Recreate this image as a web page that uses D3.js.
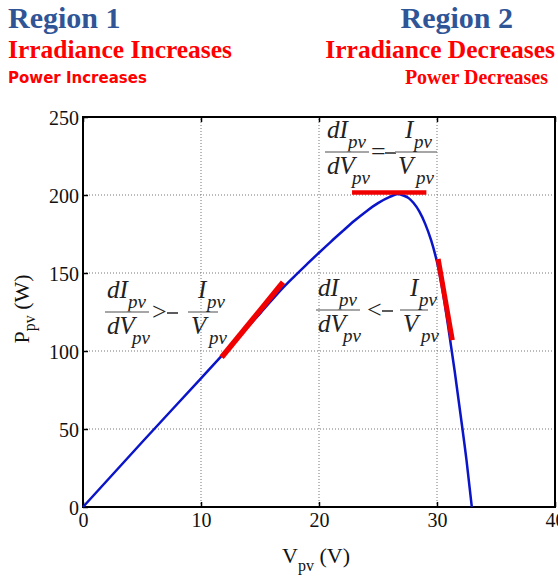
<!DOCTYPE html>
<html>
<head>
<meta charset="utf-8">
<script src="https://cdn.jsdelivr.net/npm/d3@7"></script>
<style>
  body { margin: 0; background: #fff; }
  svg { display: block; }
  .serif { font-family: "Liberation Serif", "Times New Roman", serif; }
</style>
</head>
<body>
<svg id="chart" width="558" height="577"></svg>
<script>
// P-V curve
var voltage = [0, 5, 10, 12, 15, 17, 18, 19, 20, 21, 22, 23, 24, 25, 26, 26.7, 27.1, 27.6, 28, 28.5, 29, 29.5, 30, 30.5, 31, 31.5, 32, 32.5, 32.95];
var power   = [0, 41.5, 82.5, 99, 124, 141, 148.5, 155.8, 163, 170, 176.8, 183.5, 189.5, 194.8, 198.8, 200.6, 199.8, 198, 195, 189.5, 181.5, 171, 157, 137.5, 113, 87, 59, 30, 0];

var xTicks = [0, 10, 20, 30, 40];
var yTicks = [0, 50, 100, 150, 200, 250];

// red tangent markers: [v1, p1, v2, p2]
var tangentLeft  = [11.75, 96, 16.95, 144];
var tangentTop   = [22.8, 201.6, 29.1, 201.6];
var tangentRight = [30.1, 159, 31.3, 107];

var svg = d3.select('#chart');

var x = d3.scaleLinear().domain([0, 40]).range([83, 555]);
var y = d3.scaleLinear().domain([0, 250]).range([507, 117]);

// dotted grid
svg.append('g').selectAll('line.gx')
	.data(xTicks.slice(1, -1))
	.enter().append('line')
	.attr('x1', function(d) { return x(d); })
	.attr('x2', function(d) { return x(d); })
	.attr('y1', y(0)).attr('y2', y(250))
	.attr('stroke', '#777').attr('stroke-width', 1).attr('stroke-dasharray', '1,2');

svg.append('g').selectAll('line.gy')
	.data(yTicks.slice(1, -1))
	.enter().append('line')
	.attr('y1', function(d) { return y(d); })
	.attr('y2', function(d) { return y(d); })
	.attr('x1', x(0)).attr('x2', x(40))
	.attr('stroke', '#777').attr('stroke-width', 1).attr('stroke-dasharray', '1,2');

// axes with inward ticks
var xAxis = svg.append('g')
	.attr('transform', 'translate(0,' + y(0) + ')')
	.call(d3.axisBottom(x).tickValues(xTicks).tickSize(-5).tickPadding(6));
var xTop = svg.append('g')
	.attr('transform', 'translate(0,' + y(250) + ')')
	.call(d3.axisTop(x).tickValues(xTicks).tickSize(-5).tickFormat(''));
var yAxis = svg.append('g')
	.attr('transform', 'translate(' + x(0) + ',0)')
	.call(d3.axisLeft(y).tickValues(yTicks).tickSize(-5).tickPadding(4));

[xAxis, xTop, yAxis].forEach(function(a) {
	a.select('.domain').remove();
	a.selectAll('line').attr('stroke', '#000').attr('stroke-width', 1.5);
	a.selectAll('text')
		.attr('class', 'serif')
		.style('font-size', '20px')
		.attr('fill', '#111');
});
xAxis.selectAll('text').attr('dy', '0.72em');
yAxis.selectAll('text').attr('dy', '0.35em');

// box
svg.append('rect')
	.attr('x', x(0)).attr('y', y(250))
	.attr('width', x(40) - x(0)).attr('height', y(0) - y(250))
	.attr('fill', 'none').attr('stroke', '#000').attr('stroke-width', 2);

// curve
var line = d3.line()
	.x(function(d) { return x(d[0]); })
	.y(function(d) { return y(d[1]); })
	.curve(d3.curveMonotoneX);

svg.append('path')
	.datum(voltage.map(function(v, i) { return [v, power[i]]; }))
	.attr('d', line)
	.attr('fill', 'none')
	.attr('stroke', '#0a14c8')
	.attr('stroke-width', 2.5);

// tangents
[[tangentLeft, 5.5], [tangentTop, 4.5], [tangentRight, 5]].forEach(function(t) {
	var s = t[0];
	svg.append('line')
		.attr('x1', x(s[0])).attr('y1', y(s[1]))
		.attr('x2', x(s[2])).attr('y2', y(s[3]))
		.attr('stroke', '#f00000')
		.attr('stroke-width', t[1]);
});

// dI/dV vs -I/V formula, x0 = left of first fraction bar, y0 = bar height
function formula(x0, y0, op, opX, minusX, line2Start, line2Len) {
	var g = svg.append('g').attr('class', 'serif').style('font-style', 'italic').attr('fill', '#222');

	function txt(tx, ty, s, size) {
		g.append('text').attr('x', tx).attr('y', ty).text(s).style('font-size', size + 'px');
	}
	function bar(bx, len) {
		g.append('line').attr('x1', bx).attr('x2', bx + len)
			.attr('y1', y0).attr('y2', y0)
			.attr('stroke', '#888').attr('stroke-width', 1.5);
	}

	txt(x0 + 2, y0 - 14, 'dI', 25);
	txt(x0 + 23, y0 - 4, 'pv', 19);
	bar(x0, 44);
	txt(x0 + 2, y0 + 22, 'dV', 25);
	txt(x0 + 27, y0 + 32, 'pv', 19);

	g.append('text').attr('x', x0 + opX).attr('y', y0 + 8).text(op)
		.style('font-style', 'normal').style('font-size', '26px');
	// the minus sign, drawn as a short bar at fraction height
	g.append('line')
		.attr('x1', x0 + minusX).attr('x2', x0 + minusX + 11)
		.attr('y1', y0 + 1).attr('y2', y0 + 1)
		.attr('stroke', '#333').attr('stroke-width', 1.6);

	bar(x0 + line2Start, line2Len);
	txt(x0 + line2Start + 10, y0 - 14, 'I', 25);
	txt(x0 + line2Start + 19, y0 - 4, 'pv', 19);
	txt(x0 + line2Start + 3, y0 + 22, 'V', 25);
	txt(x0 + line2Start + 21, y0 + 32, 'pv', 19);
}

formula(325, 152, '=', 46, 60, 70, 42);
formula(105, 312, '>', 47, 62, 83, 30);
formula(316, 310, '<', 51, 66, 84, 28);

// axis titles
var yl = svg.append('text')
	.attr('class', 'serif')
	.attr('transform', 'translate(29,309) rotate(-90)')
	.attr('text-anchor', 'middle')
	.style('font-size', '22px')
	.attr('fill', '#111');
yl.append('tspan').text('P');
yl.append('tspan').text('pv').attr('dy', 6).style('font-size', '16px');
yl.append('tspan').text(' (W)').attr('dy', -6);

var xl = svg.append('text')
	.attr('class', 'serif')
	.attr('x', 316).attr('y', 563)
	.attr('text-anchor', 'middle')
	.style('font-size', '22px')
	.attr('fill', '#111');
xl.append('tspan').text('V');
xl.append('tspan').text('pv').attr('dy', 8).style('font-size', '16px');
xl.append('tspan').text(' (V)').attr('dy', -8);

// region headings
var blue = '#2f5597', red = '#ff0000';
function heading(tx, ty, s, size, color, anchor, fam) {
	svg.append('text')
		.attr('x', tx).attr('y', ty)
		.attr('text-anchor', anchor)
		.style('font-family', fam)
		.style('font-weight', 'bold')
		.style('font-size', size + 'px')
		.attr('fill', color)
		.text(s);
}
var serifFam = '"Liberation Serif", "Times New Roman", serif';
var sansFam = '"DejaVu Sans", Verdana, sans-serif';

heading(8, 28, 'Region 1', 30, blue, 'start', serifFam);
heading(8, 58, 'Irradiance Increases', 25.5, red, 'start', serifFam);
heading(8, 83, 'Power Increases', 15, red, 'start', sansFam);
heading(513, 28, 'Region 2', 30, blue, 'end', serifFam);
heading(555, 58, 'Irradiance Decreases', 25.5, red, 'end', serifFam);
heading(548, 84, 'Power Decreases', 20, red, 'end', serifFam);
</script>
</body>
</html>
